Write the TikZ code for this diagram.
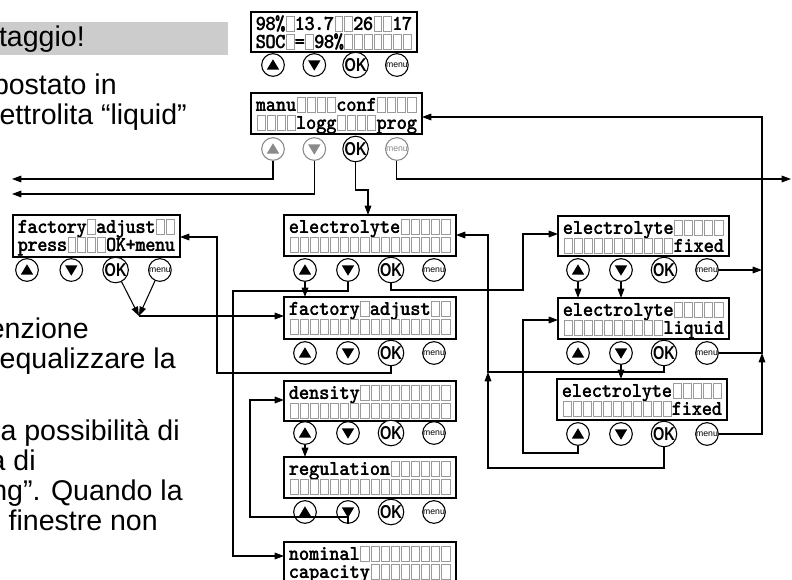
\documentclass[tikz,border=0pt]{standalone}
\usepackage{fontspec}
\usepackage{graphicx}
\newfontfamily\arialf{Liberation Sans}
\usetikzlibrary{arrows.meta}
\definecolor{cellgray}{HTML}{9A9A9A}
\definecolor{btngray}{HTML}{8A8A8A}
\definecolor{bargray}{HTML}{CCCCCC}

\newcount\lcdi
\def\lcdend{LCDEND}
\def\lcdloop#1{\ifx#1\lcdend\else\lcdchar#1\advance\lcdi by 1\relax\expandafter\lcdloop\fi}
\def\lcdchar#1{%
  \pgfmathsetmacro\lcdcx{\lcdx+5+\the\lcdi*\lcdp}%
  \ifx*#1%
    \draw[lcdcell] (\lcdcx+1,\lcdy) rectangle (\lcdcx+\lcdp-1,\lcdy+15);%
  \else
    \node[lcdtxt] at (\lcdcx+\lcdp/2,\lcdy+14) {\scalebox{0.9}[1]{\rlap{#1}\kern0.3pt#1}};%
  \fi}
\newcommand\lcdbox[7]{%
  \node[lcdframe, minimum width=#4*0.75pt, minimum height=#5*0.75pt, anchor=north west] (#1) at (#2,#3) {};
  \pgfmathsetmacro\lcdp{(#4-10)/16}%
  \def\lcdx{#2}\def\lcdy{#3+4}\lcdi=0 \lcdloop#6\lcdend
  \def\lcdy{#3+22}\lcdi=0 \lcdloop#7\lcdend}
\newcommand\btnrow[5]{%
  \node[upbtn=#5] (#1-up) at (#3,#2) {};
  \node[dnbtn=#5] (#1-dn) at ({#3+#4},#2) {};
  \node[okbtn] (#1-ok) at ({#3+2*#4},#2) {\scalebox{0.78}[1]{OK}};
  \node[mnbtn=#5] (#1-mn) at ({#3+3*#4},#2) {menu};}

\tikzset{
  lcdframe/.style={rectangle, draw, line width=0.9pt, fill=white, inner sep=0pt, outer sep=0pt},
  lcdcell/.style={draw=cellgray, line width=0.75pt},
  lcdtxt/.style={anchor=base, inner sep=0pt, font=\ttfamily\bfseries\fontsize{16}{16}\selectfont},
  btn/.style={circle, draw, line width=0.8pt, minimum size=17pt, inner sep=0pt, fill=white},
  upbtn/.style={btn, draw=#1, path picture={\fill[#1, shift={(path picture bounding box.center)}] (-4.6pt,-3.4pt) -- (4.6pt,-3.4pt) -- (0pt,4.3pt) -- cycle;}},
  dnbtn/.style={btn, draw=#1, path picture={\fill[#1, shift={(path picture bounding box.center)}] (-4.6pt,3.4pt) -- (4.6pt,3.4pt) -- (0pt,-4.3pt) -- cycle;}},
  okbtn/.style={btn, font=\arialf\bfseries\fontsize{14}{14}\selectfont},
  mnbtn/.style={btn, draw=#1, text=#1, font=\arialf\fontsize{6.5}{6.5}\selectfont},
  conn/.style={line width=0.8pt, -{Triangle[length=7pt,width=5pt]}},
  txt/.style={inner sep=0pt, anchor=base east, font=\arialf\fontsize{21.4}{22.5}\selectfont}
}

\begin{document}
\begin{tikzpicture}[x=0.75pt,y=-0.75pt]
\useasboundingbox (0,0) rectangle (792,579);
\clip (0,0) rectangle (792,579);

% clipped slide text on the left
\fill[bargray] (0,22) rectangle (228,55);
\node[txt] (t1) at (85,46) {taggio!};
\node[txt] (t2) at (117,94) {postato in};
\node[txt] (t3) at (187,124) {ettrolita “liquid”};
\node[txt] (t4) at (89,338) {enzione};
\node[txt] (t5) at (176,368) {equalizzare la};
\node[txt] (t6) at (180,440) {a possibilità di};
\node[txt] (t7) at (36,470) {a di};
\node[txt] (t8) at (183,500) {ng”. Quando la};
\node[txt] (t9) at (158,530) {finestre non};

% displays
\lcdbox{top}{251}{12}{166}{40}{98\%*13.7**26**17}{SOC*=*98\%*******}
\lcdbox{manu}{251}{93}{171}{41}{manu****conf****}{****logg****prog}
\lcdbox{factL}{13}{215}{167}{42}{factory*adjust**}{press****OK+menu}
\lcdbox{elec}{284}{215}{172}{41}{electrolyte*****}{****************}
\lcdbox{factM}{284}{297}{172}{42}{factory*adjust**}{****************}
\lcdbox{dens}{284}{381}{172}{40}{density*********}{****************}
\lcdbox{reg}{284}{457}{172}{41}{regulation******}{****************}
\lcdbox{nom}{284}{542}{172}{41}{nominal*********}{capacity********}
\lcdbox{fixT}{558}{216}{171}{40}{electrolyte*****}{***********fixed}
\lcdbox{liq}{558}{298}{171}{41}{electrolyte*****}{**********liquid}
\lcdbox{fixB}{557}{379}{170}{41}{electrolyte*****}{***********fixed}

% buttons
\btnrow{top}{65}{273}{41.3}{black}
\btnrow{manu}{149}{273}{41.3}{btngray}
\btnrow{factL}{270}{27}{44.3}{black}
\btnrow{elec}{270}{305}{43}{black}
\btnrow{factM}{353}{305}{43}{black}
\btnrow{dens}{433}{305}{43}{black}
\btnrow{reg}{512}{305}{43}{black}
\btnrow{fixT}{270}{578}{43}{black}
\btnrow{liq}{353}{578}{43}{black}
\btnrow{fixB}{434}{578}{43}{black}

% bend coordinates
\coordinate (lA) at (12,179);
\coordinate (lB) at (12,194);
\coordinate (rA) at (791,179);
\coordinate (b3) at (368,190);
\coordinate (vR) at (762,117);
\coordinate (b9) at (233,291);
\coordinate (b9b) at (233,556);
\coordinate (b10) at (523,290);
\coordinate (b10b) at (523,234);
\coordinate (b11) at (217,373);
\coordinate (b11b) at (217,237);
\coordinate (mL) at (139,316);
\coordinate (b14) at (250,517);
\coordinate (b14b) at (250,400);
\coordinate (b17) at (488,372);
\coordinate (b17b) at (488,235);
\coordinate (b18) at (488,468);
\coordinate (b19) at (523,453);
\coordinate (b19b) at (523,320);

% connectors
\draw[conn] (manu-up.south) |- (lA);
\draw[conn] (manu-dn.south) |- (lB);
\draw[conn] (manu-ok.south) |- (b3) -- (b3 |- elec.north);
\draw[conn] (manu-mn.south) |- (rA);

\draw[conn] (fixT-mn.east) -- (fixT-mn.east -| vR);
\draw[conn] (fixB-mn.east) -| (liq-mn.east -| vR);
\draw[conn] (liq-mn.east) -| (vR) -- (vR -| manu.east);

\draw[conn] (elec-up.south) -- (elec-up.south |- factM.north);
\draw[conn] (elec-dn.south) |- (b9) -- (b9b) -- (b9b -| nom.west);
\draw[conn] (elec-ok.south) |- (b10) -- (b10b) -- (b10b -| fixT.west);
\draw[conn] (factM-ok.south) |- (b11) -- (b11b) -- (b11b -| factL.east);
\draw[conn] (factL-ok) -- (mL);
\draw[conn] (factL-mn) -- (mL);
\draw[conn] (mL) -- (mL -| factM.west);
\draw[conn] (dens-up.south) -- (dens-up.south |- reg.north);
\draw[conn] (reg-dn.south) |- (b14) -- (b14b) -- (b14b -| dens.west);

\draw[conn] (fixT-up.south) -- (fixT-up.south |- liq.north);
\draw[conn] (fixT-dn.south) -- (fixT-dn.south |- liq.north);
\draw[conn] (liq-dn.south) -- (liq-dn.south |- fixB.north);
\draw[conn] (liq-ok.south) |- (b17) -- (b17b) -- (b17b -| elec.east);
\draw[conn] (fixB-ok.south) |- (b18) -- (b17);
\draw[conn] (fixB-up.south) |- (b19) -- (b19b) -- (b19b -| liq.west);
\end{tikzpicture}
\end{document}
